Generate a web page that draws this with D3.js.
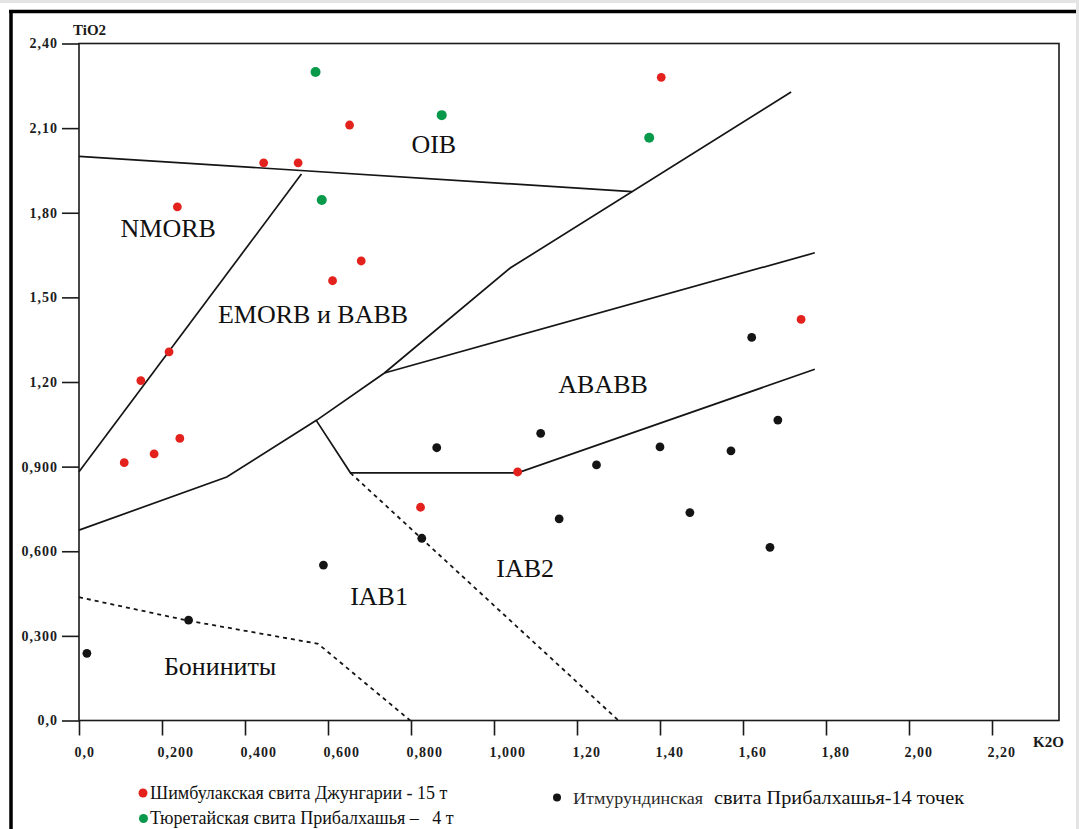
<!DOCTYPE html>
<html>
<head>
<meta charset="utf-8">
<script src="https://cdn.jsdelivr.net/npm/d3@7"></script>
<style>
  body { margin: 0; background: #fff; }
  svg { display: block; }
  text { font-family: "Liberation Serif", "DejaVu Serif", serif; }
</style>
</head>
<body>
<svg id="chart" width="1079" height="829"></svg>
<script>
// axis ticks and their labels (as printed on the figure)
const xTicks = [0, 0.2, 0.4, 0.6, 0.8, 1.0, 1.2, 1.4, 1.6, 1.8, 2.0, 2.2];
const xTickLabels = ["0,0", "0,200", "0,400", "0,600", "0,800", "1,000", "1,20", "1,40", "1,60", "1,80", "2,00", "2,20"];
const yTicks = [0, 0.3, 0.6, 0.9, 1.2, 1.5, 1.8, 2.1, 2.4];
const yTickLabels = ["0,0", "0,300", "0,600", "0,900", "1,20", "1,50", "1,80", "2,10", "2,40"];

// field boundaries, [K2O, TiO2]
const solidLines = [
  [[0, 2.0], [1.333, 1.875]],                                   // OIB lower limit
  [[0, 0.882], [0.536, 1.937]],                                 // NMORB / EMORB
  [[0, 0.675], [0.356, 0.863], [0.573, 1.065], [0.736, 1.232], [1.039, 1.604], [1.716, 2.228]],
  [[0.736, 1.232], [1.773, 1.658]],                             // ABABB upper
  [[0.572, 1.063], [0.654, 0.878], [1.057, 0.878], [1.773, 1.245]]
];
const dashedLines = [
  [[0.654, 0.878], [1.300, 0]],                                 // IAB1 / IAB2
  [[0, 0.437], [0.263, 0.354], [0.576, 0.272], [0.798, 0]]      // boninites
];

// samples
const shimbulak = [
  [1.403, 2.280], [0.652, 2.111], [0.445, 1.977], [0.528, 1.977], [0.237, 1.821],
  [0.611, 1.559], [0.680, 1.629], [0.217, 1.307], [0.149, 1.205], [0.243, 1.000],
  [0.181, 0.945], [0.109, 0.914], [1.740, 1.422], [1.057, 0.881], [0.823, 0.756]
];
const tyuretai = [[0.570, 2.299], [0.874, 2.146], [0.585, 1.845], [1.374, 2.066]];
const itmurundy = [
  [0.019, 0.238], [0.264, 0.356], [0.589, 0.551], [0.826, 0.646], [0.862, 0.967],
  [1.1125, 1.018], [1.157, 0.715], [1.247, 0.906], [1.400, 0.970], [1.472, 0.737],
  [1.571, 0.956], [1.621, 1.358], [1.665, 0.614], [1.684, 1.065]
];

// field names, anchored at [K2O, TiO2] (text baseline, centred)
const fieldNames = ["OIB", "NMORB", "EMORB и BABB", "ABABB", "IAB1", "IAB2", "Бониниты"];
const fieldAnchors = [[0.855, 2.011], [0.215, 1.714], [0.564, 1.409], [1.263, 1.162], [0.723, 0.409], [1.075, 0.508], [0.340, 0.161]];

const colors = { red: "#e3221d", green: "#08994a", black: "#141414" };

const svg = d3.select("#chart");
const x = d3.scaleLinear().domain([0, 2.2]).range([79, 992]);
const y = d3.scaleLinear().domain([0, 2.4]).range([720.5, 43.5]);
const plotRight = 1059;

// page frame
svg.append("rect").attr("x", 0).attr("y", 0).attr("width", 1079).attr("height", 3).attr("fill", "#e4e4e4");
svg.append("rect").attr("x", 1076).attr("y", 0).attr("width", 3).attr("height", 829).attr("fill", "#e4e4e4");
svg.append("line").attr("x1", 9).attr("x2", 1076).attr("y1", 11.5).attr("y2", 11.5)
  .attr("stroke", "#000").attr("stroke-width", 3.5);
svg.append("line").attr("x1", 11).attr("x2", 11).attr("y1", 10).attr("y2", 829)
  .attr("stroke", "#000").attr("stroke-width", 3.5);

// plot box
svg.append("rect")
  .attr("x", x(0)).attr("y", y(2.4))
  .attr("width", plotRight - x(0)).attr("height", y(0) - y(2.4))
  .attr("fill", "none").attr("stroke", "#1a1a1a").attr("stroke-width", 1.6);

// axes
let xAxis = svg.append("g").attr("transform", `translate(0,${y(0)})`)
  .call(d3.axisBottom(x).tickValues(xTicks).tickSize(15).tickPadding(12)
    .tickFormat((d, i) => xTickLabels[i]));
let yAxis = svg.append("g").attr("transform", `translate(${x(0)},0)`)
  .call(d3.axisLeft(y).tickValues(yTicks).tickSize(17).tickPadding(4)
    .tickFormat((d, i) => yTickLabels[i]));
[xAxis, yAxis].forEach(ax => {
  ax.select(".domain").remove();
  ax.selectAll(".tick line").attr("stroke", "#1a1a1a").attr("stroke-width", 1.6);
  ax.selectAll(".tick text")
    .attr("fill", "#1c1c1c")
    .style("font-family", "'Liberation Serif', serif")
    .style("font-size", "14px").style("font-weight", "bold")
    .style("letter-spacing", "1px");
});
xAxis.selectAll(".tick text").attr("text-anchor", "start").attr("dx", -5);

svg.append("text").attr("x", 73).attr("y", 35)
  .attr("font-size", 15).attr("font-weight", "bold").attr("fill", "#1a1a1a").text("TiO2");
svg.append("text").attr("x", 1033).attr("y", 747)
  .attr("font-size", 15).attr("font-weight", "bold").attr("fill", "#1a1a1a").text("K2O");

// boundaries
const line = d3.line().x(d => x(d[0])).y(d => y(d[1]));
svg.append("g").selectAll("path").data(solidLines).enter().append("path")
  .attr("d", line).attr("fill", "none").attr("stroke", "#151515").attr("stroke-width", 1.7);
svg.append("g").selectAll("path").data(dashedLines).enter().append("path")
  .attr("d", line).attr("fill", "none").attr("stroke", "#151515").attr("stroke-width", 1.8)
  .attr("stroke-dasharray", "4,4");

// field names
svg.append("g").selectAll("text").data(fieldNames).enter().append("text")
  .attr("x", (d, i) => x(fieldAnchors[i][0]))
  .attr("y", (d, i) => y(fieldAnchors[i][1]))
  .attr("text-anchor", "middle").attr("font-size", 26).attr("fill", "#111")
  .text(d => d);

// samples
[[shimbulak, colors.red, 4.4], [tyuretai, colors.green, 5], [itmurundy, colors.black, 4.4]].forEach(function([pts, col, r]) {
  svg.append("g").selectAll("circle").data(pts).enter().append("circle")
    .attr("cx", d => x(d[0])).attr("cy", d => y(d[1])).attr("r", r).attr("fill", col);
});

// legend
let legend = svg.append("g").attr("id", "legend");
legend.append("circle").attr("cx", 143).attr("cy", 793).attr("r", 4.5).attr("fill", colors.red);
legend.append("text").attr("x", 150).attr("y", 798.5).attr("font-size", 18).attr("fill", "#111")
  .text("Шимбулакская свита Джунгарии - 15 т");
legend.append("circle").attr("cx", 143.5).attr("cy", 818.5).attr("r", 4.5).attr("fill", colors.green);
legend.append("text").attr("x", 150).attr("y", 824).attr("font-size", 18).attr("fill", "#111")
  .style("white-space", "pre")
  .text("Тюретайская свита Прибалхашья –   4 т");
legend.append("circle").attr("cx", 557).attr("cy", 797.5).attr("r", 4).attr("fill", colors.black);
let lt = legend.append("text").attr("y", 803.5).attr("fill", "#111");
lt.append("tspan").attr("x", 573).attr("font-size", 16).attr("fill", "#2a2a2a")
  .attr("textLength", 130).attr("lengthAdjust", "spacingAndGlyphs").text("Итмурундинская");
lt.append("tspan").attr("x", 714).attr("font-size", 19.5)
  .attr("textLength", 250).attr("lengthAdjust", "spacingAndGlyphs").text("свита Прибалхашья-14 точек");
</script>
</body>
</html>
